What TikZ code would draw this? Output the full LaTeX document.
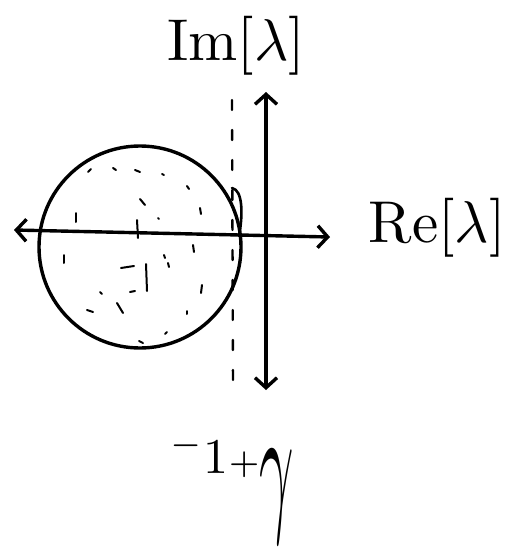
\documentclass[tikz,border=0pt]{standalone}
\usetikzlibrary{arrows.meta}
\begin{document}
\begin{tikzpicture}[x=1pt, y=-1pt, line width=3.4pt, line cap=round, line join=round,
    >={Straight Barb[length=10pt,width=22pt,line width=3.4pt]},
    lbl/.style={scale=5.9},
    shademark/.style={line width=2pt}]

              % Rahmen
              \useasboundingbox (0,0) rectangle (514,560);

              % Achsen
              \coordinate (reL) at (14,230);
              \coordinate (reR) at (330,237);
              \coordinate (imT) at (266,92);
              \coordinate (imB) at (266,390);
              \draw[<->] (reL) -- (reR);
              \draw[<->] (imT) -- (imB);

              % Kreis
              \draw (140,247) circle (101pt);

              % gestrichelte Linie bei -1+gamma
              \draw[line width=2.4pt, dash pattern=on 10pt off 20pt] (232,100) -- (233,386);
              \draw[line width=2.6pt] (232,188) .. controls (243,190) and (243,215) .. (239,236);

              % Schraffur im Kreis
              \foreach \a/\b/\c/\d in {88/172/91/169, 113/168/116/170, 135/170/140/172, 162/174/164/175,
                      187/186/189/189, 140/199/145/205, 200/208/201/214, 158/218/159/219,
                      76/213/76/222, 137/220/138/238, 193/245/194/252, 64/255/64/263,
                      164/255/165/258, 168/263/169/267, 121/268/134/266, 146/264/147/291,
                      130/292/135/291, 100/292/102/294, 202/285/201/293, 87/310/93/312,
                      117/303/123/313, 187/311/187/314, 165/334/167/332, 139/341/143/343} {
                      \draw[shademark] (\a,\b) -- (\c,\d);
                  }

              % Beschriftung
              \node[lbl] (im) at (236,46) {$\mathrm{Im}[\lambda]$};
              \node[lbl] (re) at (437,228) {$\mathrm{Re}[\lambda]$};
              \node[scale=5, anchor=base] (gam) at (232,473)
                  {${}^{-}1{\scriptstyle+}\raisebox{-8.3pt}{\scalebox{1.2}[3]{$\gamma$}}$};

          \end{tikzpicture}
\end{document}
